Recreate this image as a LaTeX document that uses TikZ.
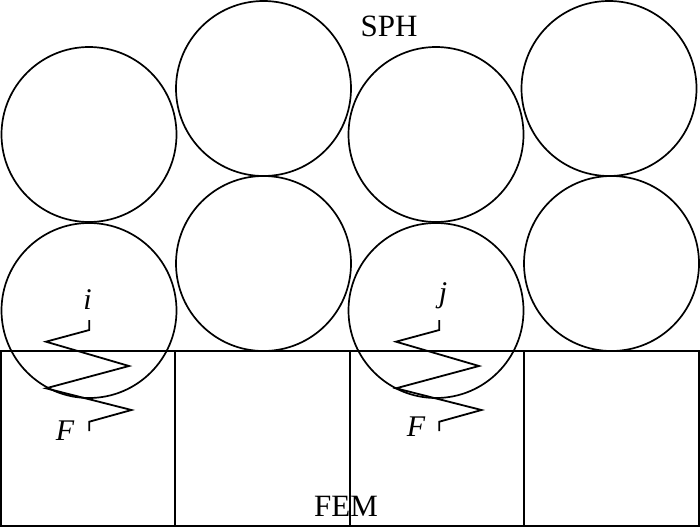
\documentclass[tikz,border=0pt]{standalone}
\usepackage{fontspec}
\setmainfont{Liberation Serif}
\tikzset{
  ball/.style={circle,draw=black,line width=1.7pt,minimum size=175pt,inner sep=0pt,outer sep=0pt},
  cell/.style={draw=black,line width=1.7pt,minimum width=174.5pt,minimum height=175pt,inner sep=0pt,outer sep=0pt},
  spring/.style={draw=black,line width=1.8pt,line join=miter},
  lab/.style={inner sep=0pt,outer sep=0pt,font=\fontsize{31}{31}\selectfont,text=black},
  mathlab/.style={inner sep=0pt,outer sep=0pt,font=\fontsize{30}{30}\selectfont\itshape,text=black}
}
\begin{document}
\begin{tikzpicture}[x=1pt,y=-1pt]
\useasboundingbox (0,0) rectangle (700,527);
\node[ball] (b1) at (89,134.5) {};
\node[ball] (b2) at (89,310.5) {};
\node[ball] (b3) at (263.5,88.5) {};
\node[ball] (b4) at (263.5,263.5) {};
\node[ball] (b5) at (436,134.5) {};
\node[ball] (b6) at (436,310.5) {};
\node[ball] (b7) at (609,88.5) {};
\node[ball] (b8) at (611.5,263.5) {};
\node[cell] (c1) at (88,438.5) {};
\node[cell] (c2) at (262.7,438.5) {};
\node[cell] (c3) at (437,438.5) {};
\node[cell] (c4) at (611.7,438.5) {};
\coordinate (ia) at (89.3,320);
\coordinate (ib) at (89.3,431);
\coordinate (ja) at (439.3,320);
\coordinate (jb) at (439.3,431);
\draw[spring] (ia) -- ++(0,10) -- (46,341.7) -- (129,366) -- (46,388.3) -- (131.5,410) -- (89.3,421.7) -- (ib);
\draw[spring] (ja) -- ++(0,10) -- (396,341.7) -- (479,366) -- (396,388.3) -- (481.5,410) -- (439.3,421.7) -- (jb);
\node[lab] (sph) at (389,26) {SPH};
\node[lab] (fem) at (346,506) {FEM};
\node[mathlab] (li) at (87.5,300) {i};
\node[mathlab] (lj) at (443,296) {j};
\node[mathlab] (lf1) at (65,431) {F};
\node[mathlab] (lf2) at (416,427) {F};
\end{tikzpicture}
\end{document}
